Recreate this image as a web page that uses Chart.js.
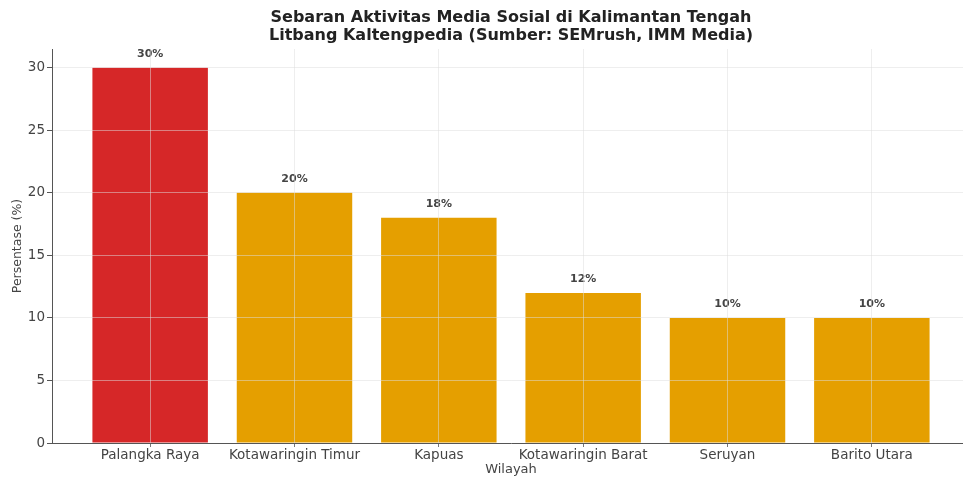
<!DOCTYPE html>
<html>
<head>
<meta charset="utf-8">
<script src="https://cdn.jsdelivr.net/npm/chart.js@4.4.1/dist/chart.umd.min.js"></script>
<style>
  html, body { margin: 0; padding: 0; background: #fff; overflow: hidden; }
  #wrap { width: 1022px; height: 479px; }
</style>
</head>
<body>
<div id="wrap"><canvas id="sosmedChart" width="1022" height="479"></canvas></div>
<script>
// Region names and share of social media activity (%)
const wilayah = ['Palangka Raya', 'Kotawaringin Timur', 'Kapuas', 'Kotawaringin Barat', 'Seruyan', 'Barito Utara'];
const persentase = [30, 20, 18, 12, 10, 10];
const yTicks = [0, 5, 10, 15, 20, 25, 30];

const warnaUtama = '#d62728';
const warnaLain = '#e59f00';
const teks = '#444444';
const gridWarna = 'rgba(222,222,222,0.5)';

// draw the "30%" style labels above each bar
const labelPlugin = {
    id: 'barLabels',
    afterDatasetsDraw(chart) {
        const ctx = chart.ctx;
        const meta = chart.getDatasetMeta(0);
        ctx.save();
        ctx.font = 'bold 11px "DejaVu Sans"';
        ctx.fillStyle = '#444';
        ctx.textAlign = 'center';
        ctx.textBaseline = 'bottom';
        meta.data.forEach((bar, i) => {
            ctx.fillText(persentase[i] + '%', bar.x, bar.y - 8);
        });
        ctx.restore();
    }
};

const ctx = document.getElementById('sosmedChart').getContext('2d');
new Chart(ctx, {
    type: 'bar',
    data: {
        datasets: [{
            data: persentase.map((v, i) => ({ x: i, y: v })),
            backgroundColor: persentase.map((v, i) => i === 0 ? warnaUtama : warnaLain),
            borderWidth: 0,
            barPercentage: 1.0,
            categoryPercentage: 0.8
        }]
    },
    options: {
        responsive: false,
        animation: false,
        devicePixelRatio: 1,
        layout: { padding: { left: 4, right: 4, top: 5, bottom: 0 } },
        plugins: {
            legend: { display: false },
            tooltip: { enabled: false },
            title: {
                display: true,
                text: ['Sebaran Aktivitas Media Sosial di Kalimantan Tengah', 'Litbang Kaltengpedia (Sumber: SEMrush, IMM Media)'],
                color: '#222',
                font: { family: '"DejaVu Sans"', size: 16, weight: 'bold', lineHeight: 1.125 },
                padding: { top: 4, bottom: 4 }
            }
        },
        scales: {
            x: {
                type: 'linear',
                offset: false,
                min: -0.68,
                max: 5.68,
                afterBuildTicks: s => { s.ticks = wilayah.map((_, i) => ({ value: i })); },
                afterFit: s => { s.height = 36; },
                ticks: {
                    color: teks,
                    font: { family: '"DejaVu Sans"', size: 13.5 },
                    padding: 0,
                    maxRotation: 0,
                    autoSkip: false,
                    callback: v => wilayah[v]
                },
                grid: { z: 1, offset: false, color: gridWarna, tickColor: '#777', tickLength: 4 },
                border: { z: 2, color: '#555', width: 1 },
                title: {
                    display: true,
                    text: 'Wilayah',
                    color: teks,
                    font: { family: '"DejaVu Sans"', size: 13 },
                    padding: { top: 0, bottom: 2 }
                }
            },
            y: {
                min: 0,
                max: 31.5,
                afterBuildTicks: s => { s.ticks = yTicks.map(v => ({ value: v })); },
                afterFit: s => { s.width = 48; },
                ticks: {
                    color: teks,
                    font: { family: '"DejaVu Sans"', size: 13.5 },
                    padding: 2
                },
                grid: { z: 1, color: gridWarna, tickColor: '#555', tickLength: 5 },
                border: { z: 2, color: '#555', width: 1 },
                title: {
                    display: true,
                    text: 'Persentase (%)',
                    color: teks,
                    font: { family: '"DejaVu Sans"', size: 12.5 },
                    padding: { top: 6, bottom: 4 }
                }
            },
            // empty right-hand box, off screen, so the title centres over the plot
            kanan: {
                type: 'linear',
                position: 'right',
                afterFit: s => { s.width = 48; },
                grid: { display: false },
                ticks: { display: false },
                border: { display: false }
            }
        }
    },
    plugins: [labelPlugin]
});
</script>
</body>
</html>
